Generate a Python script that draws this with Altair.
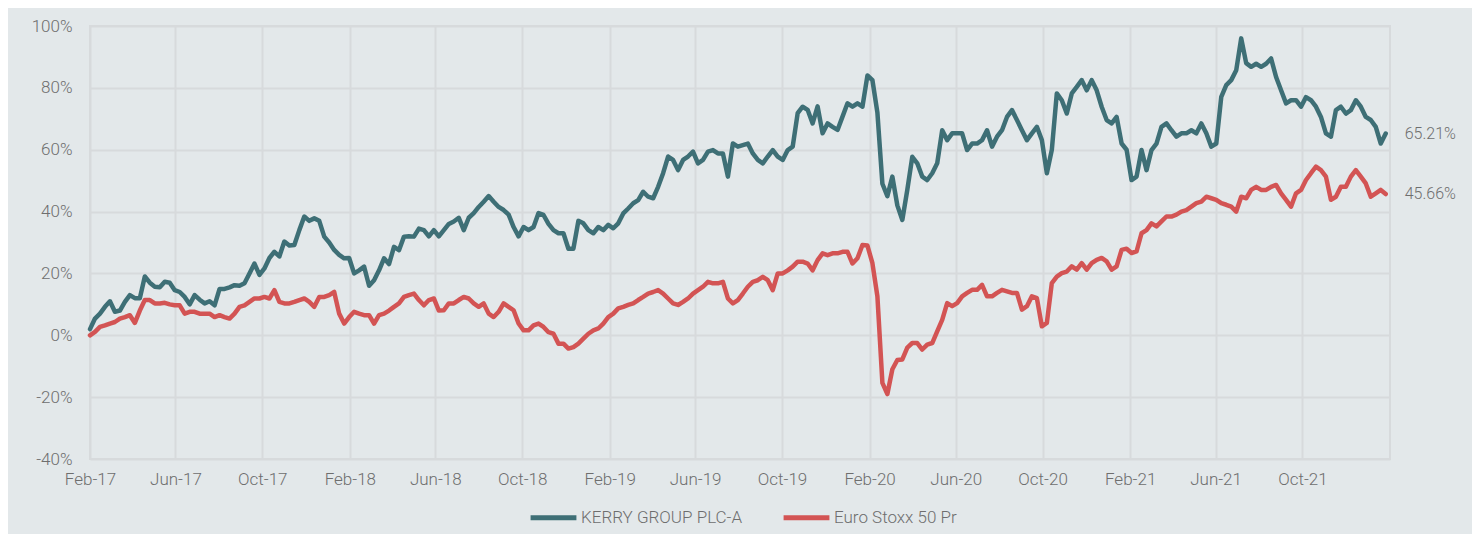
import altair as alt
import pandas as pd

# ---- data: weekly samples, split into two
# interleaved lists (weeks 0,2,4,... and weeks 1,3,5,...) ----
start_date = "2017-02-01"
series_names = ["KERRY GROUP PLC-A", "Euro Stoxx 50 Pr"]

kerry_even_weeks = [
    2, 7, 11, 8, 13, 12, 17, 15.5, 17, 14,
    10, 11.5, 11, 15, 15.5, 16, 20, 19.5, 25, 25.5,
    29, 34, 37, 37, 30, 26, 25, 21, 16, 21,
    23, 27.5, 32, 34.5, 32, 32, 36, 38, 38, 41.5,
    45, 41.5, 39, 32, 34, 39.5, 36, 33, 28, 37,
    34, 35, 35.7, 36.2, 41, 43.7, 44.8, 48, 57.8, 53.4,
    57.8, 55.6, 59.4, 58.8, 51.3, 61, 62, 56.7, 57.8, 57.8,
    59.9, 71.8, 72.9, 74, 68.5, 66.4, 75, 75, 84, 72,
    45, 42, 47, 55.6, 50.2, 55.6, 63.1, 65.3, 59.9, 62,
    66.3, 64.2, 70.6, 69.6, 63.1, 67.4, 52.4, 78.2, 71.7, 80.3,
    79.2, 79.2, 69.6, 70.6, 60, 51.3, 53.4, 62, 68.5, 64.2,
    65.3, 65.3, 65.3, 62, 80.9, 85.7, 88, 87.8, 87.8, 83.5,
    75, 76, 77, 73.9, 65.3, 72.8, 71.7, 76, 70.6, 67.4,
    65.21,
]
kerry_odd_weeks = [
    5.4, 9.2, 7.6, 10.8, 12, 19, 15.7, 17.3, 14.6, 12.4,
    13, 10.3, 9.7, 15, 16.2, 16.8, 23.2, 21.6, 27, 30.3,
    29.2, 38.4, 37.8, 31.9, 27.6, 24.9,
    20, 22.2, 17.8, 24.9, 28.6, 31.9, 31.9, 34, 34, 34,
    36.8, 34, 39.5, 43.2, 43.2, 40.5, 35, 35, 35, 38.9,
    34, 33, 28, 36.2, 33, 34,
    34.6, 39.4, 42.7, 46.4, 44.3, 52.4, 56.7, 56.7, 59.4, 56.7,
    59.9, 58.8, 62, 61.5, 58.8, 55.6, 59.9, 56.7, 61, 73.9,
    68.5, 65.3, 67.4, 70.7, 73.9, 73.9,
    82.5, 49, 51.3, 37.3, 57.7, 51.3, 52.4, 66.3, 65.3, 65.3,
    62, 63.1, 61, 66.3, 72.8, 66.3, 65.3, 63.1, 60, 76,
    78.2, 82.5, 82.5, 73.9, 68.5, 62,
    50.2, 59.9, 59.9, 67.4, 66.3, 65.3, 66.3, 68.5, 61, 77.1,
    82.5, 96, 86.8, 86.8, 89.5, 79.2, 76, 73.9, 76, 70.6,
    64.2, 73.9, 72.8, 73.9, 69.6, 62,
]

stoxx_even_weeks = [
    0, 2.7, 3.8, 5.4, 6.5, 8, 11.4, 10.3, 10, 9.7,
    7.6, 7, 7, 6.5, 5.4, 9.2, 10.8, 11.9, 11.9, 10.8,
    10.3, 11.4, 10.8, 12.4, 13, 7, 5.9, 7, 6.5, 6.5,
    8, 10.3, 13, 11.4, 11.4, 8, 10.3, 11.4, 11.9, 9.2,
    7, 7.6, 9.2, 3.8, 1.6, 3.8, 1, -2.7, -4.3, -2.7,
    0.5, 2.2, 5.9, 8.7, 9.8, 11.4, 13.5, 14.6, 11.9, 9.8,
    11.9, 14.6, 17.3, 16.8, 11.9, 11.4, 15.7, 17.8, 17.8, 20,
    21, 23.8, 23.2, 24.3, 25.9, 26.5, 27, 24.9, 29, 12.6,
    -19, -8, -4, -2.5, -3, 1.3, 10.4, 10.4, 13.7, 14.7,
    12.6, 13.7, 14.2, 13.7, 9.4, 12, 4, 19, 20.6, 21.2,
    21.2, 24.4, 23.9, 22.3, 28, 27.1, 34, 35.2, 38.4, 39,
    40.5, 42.7, 44.8, 43.8, 42.2, 40, 44.3, 48, 47, 48.6,
    43.8, 45.9, 50.2, 54.5, 51.3, 44.8, 48, 53.4, 49.1, 45.9,
    45.66,
]
stoxx_odd_weeks = [
    1.1, 3.2, 4.3, 5.9, 4, 11.4, 10.3, 10.5, 9.7, 7,
    7.6, 7, 5.9, 5.9, 7, 9.7, 11.9, 12.4, 14.6, 10.3,
    10.8, 11.9, 9.2, 12.4, 14, 3.8,
    7.6, 6.5, 3.8, 7, 9.2, 12.4, 13.5, 9.7, 11.9, 8.1,
    10.3, 12.4, 10.3, 10.3, 5.9, 10.3, 8.1, 1.6, 3.2, 2.7,
    0.5, -2.7, -3.8, -1.1, 1.6, 3.8,
    7, 9.2, 10.3, 12.4, 14, 13.5, 10.3, 10.8, 13.5, 15.7,
    16.8, 17.3, 10.3, 13.5, 17.3, 18.9, 14.6, 20, 22.2, 23.8,
    21, 26.5, 26.5, 27, 23.2, 29.2,
    23.3, -15.4, -11, -7.8, -2.5, -4.6, -2.5, 5, 9.4, 12.6,
    14.7, 16.3, 12.6, 14.7, 13.7, 8.3, 12.6, 2.9, 16.9, 20.1,
    22.3, 23.3, 23.3, 25, 21.2, 27.6,
    26.6, 33, 36.2, 36.8, 38.4, 40, 41.6, 43.2, 44.3, 42.7,
    41.6, 44.8, 47, 47, 48, 45.9, 41.6, 47, 52.4, 53.4,
    43.8, 48, 51.3, 51.3, 44.8, 47,
]

y_ticks = [-40, -20, 0, 20, 40, 60, 80, 100]
x_tick_months = [
    (2017, 2), (2017, 6), (2017, 10), (2018, 2), (2018, 6), (2018, 10),
    (2019, 2), (2019, 6), (2019, 10), (2020, 2), (2020, 6), (2020, 10),
    (2021, 2), (2021, 6), (2021, 10),
]

colors = ["#3e6f76", "#d35454"]


def interleave(even, odd):
    out = []
    for i, v in enumerate(even):
        out.append(v)
        if i < len(odd):
            out.append(odd[i])
    return out


kerry = interleave(kerry_even_weeks, kerry_odd_weeks)
stoxx = interleave(stoxx_even_weeks, stoxx_odd_weeks)

# ---- build table ----
dates = pd.date_range(start_date, periods=len(kerry), freq="7D")
rows = []
for name, vals in zip(series_names, [kerry, stoxx]):
    for d, v in zip(dates, vals):
        rows.append({"date": d, "series": name, "value": v})
df = pd.DataFrame(rows)
last = df.groupby("series").tail(1).copy()
last["label"] = last["value"].map(lambda v: f"{v:.2f}%")

label_color = "#6e6e6e"
grid_color = "#d7dadc"
font = "Roboto"
weight = 300

x_enc = alt.X(
    "date:T",
    scale=alt.Scale(domain=[alt.DateTime(year=2017, month=2, date=1),
                            alt.DateTime(year=2022, month=2, date=1)]),
    axis=alt.Axis(
        values=[alt.DateTime(year=y, month=m, date=1) for y, m in x_tick_months],
        format="%b-%y", title=None, domain=False, ticks=False, tickSize=0,
        labelFlush=False, labelOverlap=False,
        labelPadding=12, labelFontSize=17, labelColor=label_color, labelFont=font,
        labelFontWeight=weight, gridColor=grid_color, gridWidth=2,
    ),
)
y_enc = alt.Y(
    "value:Q",
    scale=alt.Scale(domain=[-40, 100], nice=False),
    axis=alt.Axis(
        values=y_ticks, labelExpr="datum.value + '%'", title=None, domain=False,
        ticks=False, tickSize=0, labelPadding=18, labelFontSize=17,
        labelColor=label_color, labelFont=font, labelFontWeight=weight,
        gridColor=grid_color, gridWidth=2,
    ),
)

lines = alt.Chart(df).mark_line(strokeWidth=4.5, strokeJoin="round", strokeCap="round").encode(
    x=x_enc,
    y=y_enc,
    color=alt.Color(
        "series:N",
        scale=alt.Scale(domain=series_names, range=colors),
        legend=alt.Legend(
            title=None, orient="none", legendX=438, legendY=466, direction="horizontal",
            symbolType="stroke", symbolStrokeWidth=5, symbolSize=2100,
            labelFontSize=17, labelColor=label_color, labelFont=font,
            labelFontWeight=weight, labelLimit=0,
            columnPadding=30, labelOffset=2,
        ),
    ),
    order=alt.Order("date:T"),
)

end_labels = alt.Chart(last).mark_text(
    align="left", baseline="middle", dx=19, fontSize=16, color=label_color,
    font=font, fontWeight=weight,
).encode(x=x_enc, y=y_enc, text="label:N")

chart = (
    alt.layer(lines, end_labels)
    .properties(
        width=1300, height=433,
        autosize=alt.AutoSizeParams(type="none"),
        padding={"left": 82, "top": 18, "right": 82, "bottom": 75},
        background="#e3e8ea",
    )
    .configure_view(stroke=grid_color, strokeWidth=2)
)

chart.save("out.html", embed_options={"renderer": "svg", "actions": False})
